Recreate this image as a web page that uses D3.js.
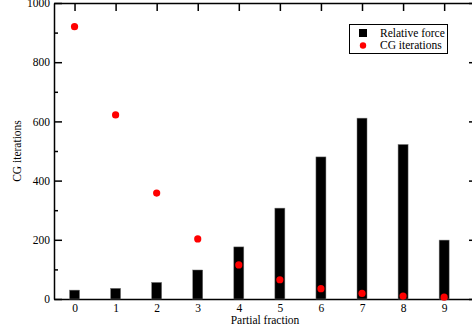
<!DOCTYPE html>
<html>
<head>
<meta charset="utf-8">
<script src="https://cdn.jsdelivr.net/npm/d3@7"></script>
<style>
  body { margin: 0; background: #fff; }
  svg { display: block; }
  svg text { font-family: "Liberation Serif", "Times New Roman", serif; fill: #000; }
  .axis path, .axis line { stroke: #000; stroke-width: 1.5; }
</style>
</head>
<body>
<svg width="472" height="333"></svg>
<script>
var fractions = [0, 1, 2, 3, 4, 5, 6, 7, 8, 9];
var relForce = [30, 36, 56, 98, 176, 307, 480, 611, 522, 199];
var cgIters = [920, 622, 358, 203, 115, 65, 35, 19, 10, 6];
var yMajor = [0, 200, 400, 600, 800, 1000];
var yMinor = [100, 300, 500, 700, 900];

var svg = d3.select("svg");
var plotLeft = 54, plotRight = 477, plotTop = 3, plotBottom = 299;

var x = d3.scaleLinear().domain([-0.5, 9.8]).range([plotLeft, plotRight]);
var y = d3.scaleLinear().domain([0, 1000]).range([plotBottom, plotTop]);
var barW = 10;

// axes
var leftAxis = svg.append("g").attr("class", "axis")
    .attr("transform", "translate(" + plotLeft + ",0)")
    .call(d3.axisLeft(y).tickValues(yMajor).tickSizeInner(-8).tickSizeOuter(0).tickPadding(4).tickFormat(d3.format("d")));
leftAxis.selectAll("text").attr("font-size", 11.5);

svg.append("g").attr("class", "axis")
    .attr("transform", "translate(" + plotLeft + ",0)")
    .call(d3.axisLeft(y).tickValues(yMinor).tickSizeInner(-4).tickSizeOuter(0).tickFormat(""))
    .select(".domain").remove();

svg.append("g").attr("class", "axis")
    .attr("transform", "translate(" + plotRight + ",0)")
    .call(d3.axisRight(y).tickValues(yMajor).tickSizeInner(-8).tickSizeOuter(0).tickFormat(""));

var bottomAxis = svg.append("g").attr("class", "axis")
    .attr("transform", "translate(0," + plotBottom + ")")
    .call(d3.axisBottom(x).tickValues(fractions).tickSizeInner(0).tickSizeOuter(0).tickPadding(5).tickFormat(d3.format("d")));
bottomAxis.selectAll("text").attr("font-size", 11.5);

svg.append("g").attr("class", "axis")
    .attr("transform", "translate(0," + plotTop + ")")
    .call(d3.axisTop(x).tickValues(fractions).tickSizeInner(-8).tickSizeOuter(0).tickFormat(""));

// bars
svg.append("g").selectAll("rect")
    .data(fractions)
    .join("rect")
    .attr("x", d => x(d) - barW / 2)
    .attr("y", (d, i) => y(relForce[i]))
    .attr("width", barW)
    .attr("height", (d, i) => y(0) - y(relForce[i]))
    .attr("fill", "#000")
    .attr("stroke", "#777")
    .attr("stroke-width", 0.5);

// points
svg.append("g").selectAll("circle")
    .data(fractions)
    .join("circle")
    .attr("cx", d => x(d))
    .attr("cy", (d, i) => y(cgIters[i]))
    .attr("r", 3.6)
    .attr("fill", "#f00");

// axis titles
svg.append("text")
    .attr("x", 265)
    .attr("y", 323.5)
    .attr("text-anchor", "middle")
    .attr("font-size", 11.5)
    .text("Partial fraction");

svg.append("text")
    .attr("transform", "translate(21,151) rotate(-90)")
    .attr("text-anchor", "middle")
    .attr("font-size", 11.5)
    .text("CG iterations");

// legend
var lg = svg.append("g");
lg.append("rect")
    .attr("x", 349.5).attr("y", 24.5)
    .attr("width", 98).attr("height", 29)
    .attr("fill", "#fff").attr("stroke", "#000").attr("stroke-width", 1);
lg.append("rect")
    .attr("x", 359).attr("y", 29).attr("width", 8).attr("height", 8)
    .attr("fill", "#000");
lg.append("circle")
    .attr("cx", 363).attr("cy", 45.5).attr("r", 3.2)
    .attr("fill", "#f00");
lg.append("text").attr("x", 380).attr("y", 37).attr("font-size", 11.5).text("Relative force");
lg.append("text").attr("x", 380).attr("y", 49).attr("font-size", 11.5).text("CG iterations");
</script>
</body>
</html>
